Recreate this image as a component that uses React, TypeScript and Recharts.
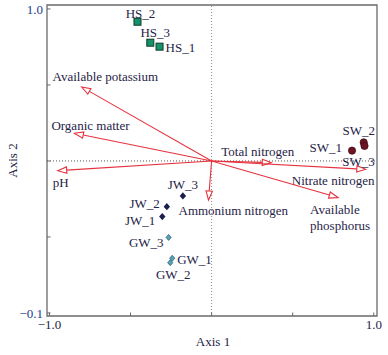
import React from 'react';
import { ScatterChart, Scatter, XAxis, YAxis, ReferenceLine, ReferenceArea, Label } from 'recharts';

// ---- axes ----
const X_DOMAIN: [number, number] = [-1.015, 1.02];
const Y_DOMAIN: [number, number] = [-1.02, 1.026];
const AXIS_TICKS = [-1, -0.5, 0, 0.5, 1];
const X_TICK_LABELS = ['\u22121.0', '', '', '', '1.0'];
const Y_TICK_LABELS = ['\u22120.1', '', '', '', '1.0'];

// ---- sample sites ----
const hsNames = ['HS_1', 'HS_2', 'HS_3'];
const hsX = [-0.321, -0.457, -0.378];
const hsY = [0.752, 0.916, 0.778];

const swNames = ['SW_1', 'SW_2', 'SW_3'];
const swX = [0.866, 0.938, 0.943];
const swY = [0.068, 0.122, 0.099];

const jwNames = ['JW_1', 'JW_2', 'JW_3'];
const jwX = [-0.304, -0.276, -0.177];
const jwY = [-0.366, -0.301, -0.23];

const gwNames = ['GW_1', 'GW_2', 'GW_3'];
const gwX = [-0.243, -0.255, -0.265];
const gwY = [-0.64, -0.669, -0.503];

// ---- environmental variables (arrows) ----
const varNames = [
  'Available potassium',
  'Organic matter',
  'pH',
  'Total nitrogen',
  'Nitrate nitrogen',
  'Ammonium nitrogen',
  'Available phosphorus',
];
const varX = [-0.802, -0.846, -0.949, 0.368, 0.951, -0.019, 0.78];
const varY = [0.487, 0.182, -0.064, -0.011, -0.055, -0.257, -0.241];

// ---- label layout (pixel offsets from the mark) ----
type Lay = { dx: number; dy: number; anchor: 'start' | 'middle' | 'end'; lines?: string[] };
const POINT_LABEL_LAYOUT: Record<string, Lay> = {
  HS_1: { dx: 6, dy: 1, anchor: 'start' },
  HS_2: { dx: 3, dy: -8, anchor: 'middle' },
  HS_3: { dx: 5, dy: -10, anchor: 'middle' },
  SW_1: { dx: -10, dy: -3, anchor: 'end' },
  SW_2: { dx: -5, dy: -11.5, anchor: 'middle' },
  SW_3: { dx: -6, dy: 15.5, anchor: 'middle' },
  JW_1: { dx: -7, dy: 4, anchor: 'end' },
  JW_2: { dx: -7, dy: -3, anchor: 'end' },
  JW_3: { dx: 0, dy: -11, anchor: 'middle' },
  GW_1: { dx: 5, dy: 1, anchor: 'start' },
  GW_2: { dx: 3, dy: 12, anchor: 'middle' },
  GW_3: { dx: -5, dy: 5, anchor: 'end' },
};
const ARROW_LABEL_LAYOUT: Record<string, Lay> = {
  'Available potassium': { dx: -29, dy: -10, anchor: 'start' },
  'Organic matter': { dx: -23, dy: -8, anchor: 'start' },
  pH: { dx: -5, dy: 12, anchor: 'start' },
  'Total nitrogen': { dx: -50, dy: -11, anchor: 'start' },
  'Nitrate nitrogen': { dx: -74, dy: 11, anchor: 'start' },
  'Ammonium nitrogen': { dx: -30, dy: 10, anchor: 'start' },
  'Available phosphorus': { dx: -28, dy: 12, anchor: 'start', lines: ['Available', 'phosphorus'] },
};

const FONT = '"Liberation Serif", "Times New Roman", serif';
const TEXT_COLOR = '#1f2347';
const ARROW_COLOR = '#e5333f';
const FRAME_COLOR = '#6a6a6a';

const build = (names: string[], xs: number[], ys: number[]) =>
  names.map((name, i) => ({ name, x: xs[i], y: ys[i] }));

const hsData = build(hsNames, hsX, hsY);
const swData = build(swNames, swX, swY);
const jwData = build(jwNames, jwX, jwY);
const gwData = build(gwNames, gwX, gwY);

const PointLabel = ({ cx, cy, name }: { cx: number; cy: number; name: string }) => {
  const l = POINT_LABEL_LAYOUT[name];
  return (
    <text
      x={cx + l.dx}
      y={cy + l.dy}
      textAnchor={l.anchor}
      dominantBaseline="central"
      fontFamily={FONT}
      fontSize={13}
      fill={TEXT_COLOR}
    >
      {name}
    </text>
  );
};

const makeShape = (kind: 'square' | 'circle' | 'diamond' | 'smalldiamond') => (props: any) => {
  const { cx, cy, payload } = props;
  let mark: React.ReactNode = null;
  if (kind === 'square') {
    mark = <rect x={cx - 3.5} y={cy - 3.5} width={7} height={7} fill="#14936a" stroke="#0b3a29" strokeWidth={1} />;
  } else if (kind === 'circle') {
    mark = <circle cx={cx} cy={cy} r={3.6} fill="#6f1426" stroke="#3d0a12" strokeWidth={0.8} />;
  } else if (kind === 'diamond') {
    mark = (
      <polygon
        points={`${cx},${cy - 3.6} ${cx + 3.2},${cy} ${cx},${cy + 3.6} ${cx - 3.2},${cy}`}
        fill="#1c1e4b"
      />
    );
  } else {
    mark = (
      <polygon
        points={`${cx},${cy - 3} ${cx + 2.6},${cy} ${cx},${cy + 3} ${cx - 2.6},${cy}`}
        fill="#5d9fb2"
        stroke="#2b6a80"
        strokeWidth={0.8}
      />
    );
  }
  return (
    <g>
      {mark}
      <PointLabel cx={cx} cy={cy} name={payload.name} />
    </g>
  );
};

const makeArrowShape = (name: string) => (props: any) => {
  const { x1, y1, x2, y2 } = props;
  if ([x1, y1, x2, y2].some((v) => typeof v !== 'number' || isNaN(v))) return <g />;
  const dx = x2 - x1;
  const dy = y2 - y1;
  const len = Math.sqrt(dx * dx + dy * dy) || 1;
  const ux = dx / len;
  const uy = dy / len;
  const L = 9;
  const W = 3.2;
  const bx = x2 - ux * L;
  const by = y2 - uy * L;
  const nx = -uy;
  const ny = ux;
  const l = ARROW_LABEL_LAYOUT[name];
  const lines = l.lines || [name];
  return (
    <g>
      <line x1={x1} y1={y1} x2={bx} y2={by} stroke={ARROW_COLOR} strokeWidth={1.1} />
      <polygon
        points={`${x2},${y2} ${bx + nx * W},${by + ny * W} ${bx - nx * W},${by - ny * W}`}
        fill="#ffffff"
        stroke={ARROW_COLOR}
        strokeWidth={1.1}
      />
      {lines.map((t, i) => (
        <text
          key={t}
          x={x2 + l.dx}
          y={y2 + l.dy + i * 16}
          textAnchor={l.anchor}
          dominantBaseline="central"
          fontFamily={FONT}
          fontSize={13}
          fill={TEXT_COLOR}
        >
          {t}
        </text>
      ))}
    </g>
  );
};

const XTick = (props: any) => {
  const { x, y, payload } = props;
  const idx = AXIS_TICKS.indexOf(payload.value);
  const label = idx >= 0 ? X_TICK_LABELS[idx] : '';
  return (
    <g>
      <line x1={x} x2={x} y1={y} y2={y - 3.5} stroke={FRAME_COLOR} strokeWidth={1} />
      <text x={x} y={y + 13} textAnchor="middle" fontFamily={FONT} fontSize={13} fill={TEXT_COLOR}>
        {label}
      </text>
    </g>
  );
};

const YTick = (props: any) => {
  const { x, y, payload } = props;
  const idx = AXIS_TICKS.indexOf(payload.value);
  const label = idx >= 0 ? Y_TICK_LABELS[idx] : '';
  return (
    <g>
      <line x1={x} x2={x + 3.5} y1={y} y2={y} stroke={FRAME_COLOR} strokeWidth={1} />
      <text
        x={x - 4}
        y={y + 1}
        textAnchor="end"
        dominantBaseline="central"
        fontFamily={FONT}
        fontSize={13}
        fill="#24408a"
      >
        {label}
      </text>
    </g>
  );
};

export default function App() {
  return (
    <div style={{ position: 'absolute', left: 0, top: 0, background: '#fff' }}>
      <ScatterChart width={388} height={355} margin={{ top: 5, right: 11, left: 0, bottom: 0 }}>
        <XAxis
          type="number"
          dataKey="x"
          domain={X_DOMAIN}
          ticks={AXIS_TICKS}
          interval={0}
          allowDataOverflow
          height={39}
          tickSize={0}
          tickMargin={0}
          tickLine={false}
          axisLine={false}
          tick={<XTick />}
        >
          <Label
            content={(p: any) => {
              const vb = p.viewBox || { x: 47, y: 316, width: 330 };
              return (
                <text
                  x={vb.x + vb.width / 2 + 1}
                  y={vb.y + 30}
                  textAnchor="middle"
                  fontFamily={FONT}
                  fontSize={13}
                  fill={TEXT_COLOR}
                >
                  Axis 1
                </text>
              );
            }}
          />
        </XAxis>
        <YAxis
          type="number"
          dataKey="y"
          domain={Y_DOMAIN}
          ticks={AXIS_TICKS}
          interval={0}
          allowDataOverflow
          width={47}
          tickSize={0}
          tickMargin={0}
          tickLine={false}
          axisLine={false}
          tick={<YTick />}
        >
          <Label
            content={(p: any) => {
              const vb = p.viewBox || { x: 0, y: 5, width: 47, height: 311 };
              const cx = 12;
              const cy = vb.y + vb.height / 2;
              return (
                <text
                  x={cx}
                  y={cy}
                  transform={`rotate(-90 ${cx} ${cy})`}
                  textAnchor="middle"
                  dominantBaseline="central"
                  fontFamily={FONT}
                  fontSize={13}
                  fill={TEXT_COLOR}
                >
                  Axis 2
                </text>
              );
            }}
          />
        </YAxis>
        <ReferenceArea
          x1={X_DOMAIN[0]}
          x2={X_DOMAIN[1]}
          y1={Y_DOMAIN[0]}
          y2={Y_DOMAIN[1]}
          fill="none"
          fillOpacity={0}
          stroke={FRAME_COLOR}
          strokeWidth={1.3}
          ifOverflow="visible"
        />
        <ReferenceLine x={0} stroke="#8a8a8a" strokeDasharray="1 2" strokeWidth={1} />
        <ReferenceLine y={0} stroke="#555" strokeDasharray="1 2" strokeWidth={1} />
        {varNames.map((name, i) => (
          <ReferenceLine
            key={name}
            segment={[
              { x: 0, y: 0 },
              { x: varX[i], y: varY[i] },
            ]}
            ifOverflow="visible"
            shape={makeArrowShape(name)}
          />
        ))}
        <Scatter data={hsData} isAnimationActive={false} shape={makeShape('square')} />
        <Scatter data={swData} isAnimationActive={false} shape={makeShape('circle')} />
        <Scatter data={jwData} isAnimationActive={false} shape={makeShape('diamond')} />
        <Scatter data={gwData} isAnimationActive={false} shape={makeShape('smalldiamond')} />
      </ScatterChart>
    </div>
  );
}
